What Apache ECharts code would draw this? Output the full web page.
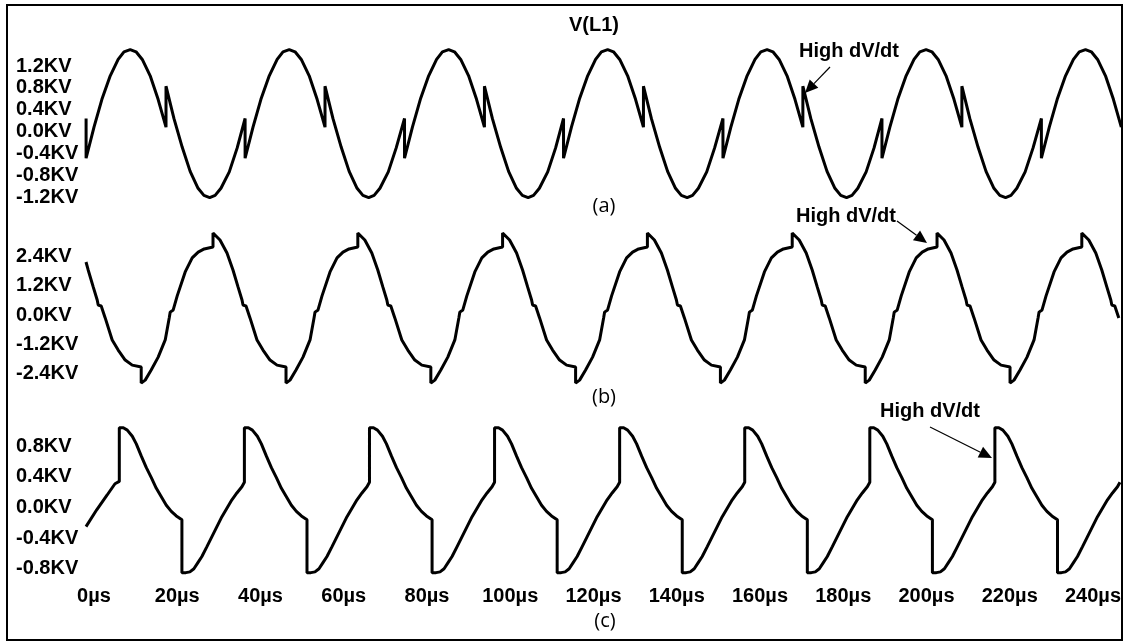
<!DOCTYPE html>
<html>
<head>
<meta charset="utf-8">
<title>V(L1)</title>
<script src="https://cdn.jsdelivr.net/npm/echarts@6/dist/echarts.min.js"></script>
<style>
  html, body { margin: 0; padding: 0; background: #fff; }
  #main { width: 1123px; height: 642px; }
</style>
</head>
<body>
<div id="main"></div>
<script>
// time axis (µs): labelled 0..240, but the traces run a little past both ends
const timeMin = -20;
const timeMax = 260;
const timeStep = 20;
const labelFirst = 0;
const labelLast = 240;

// (a) V(L1) - sine with high dV/dt notches
const timeA = [
  -1.9,
  -1.9, 0.0, 1.9, 3.9, 5.8, 7.2, 8.7, 10.1, 11.6, 13.5, 15.4, 17.3, 17.3, 19.2, 21.2, 23.1, 25.0, 26.4, 27.8, 29.1, 30.5, 32.5, 34.4, 36.3,
  36.3, 38.2, 40.1, 42.1, 44.0, 45.4, 46.9, 48.3, 49.8, 51.7, 53.6, 55.5, 55.5, 57.4, 59.4, 61.3, 63.2, 64.6, 66.0, 67.3, 68.7, 70.7, 72.6, 74.6,
  74.6, 76.5, 78.4, 80.4, 82.3, 83.7, 85.2, 86.6, 88.1, 90.0, 91.9, 93.8, 93.8, 95.7, 97.7, 99.6, 101.5, 102.9, 104.3, 105.6, 107.0, 109.0, 110.9, 112.8,
  112.8, 114.7, 116.6, 118.6, 120.5, 121.9, 123.4, 124.8, 126.3, 128.2, 130.1, 132.0, 132.0, 133.9, 135.9, 137.8, 139.7, 141.1, 142.5, 143.8, 145.2, 147.2, 149.1, 151.1,
  151.1, 153.0, 154.9, 156.9, 158.8, 160.2, 161.7, 163.1, 164.6, 166.5, 168.4, 170.3, 170.3, 172.2, 174.2, 176.1, 178.0, 179.4, 180.8, 182.1, 183.5, 185.5, 187.4, 189.3,
  189.3, 191.2, 193.1, 195.1, 197.0, 198.4, 199.9, 201.3, 202.8, 204.7, 206.6, 208.5, 208.5, 210.4, 212.4, 214.3, 216.2, 217.6, 219.0, 220.3, 221.7, 223.7, 225.6, 227.6,
  227.6, 229.5, 231.4, 233.4, 235.3, 236.7, 238.2, 239.6, 241.1, 243.0, 244.9, 246.8
];
const voltA = [
  0.24,
  -0.49, 0.08, 0.59, 1.02, 1.32, 1.46, 1.50, 1.46, 1.32, 1.02, 0.59, 0.08, 0.83, 0.24, -0.29, -0.73, -1.04, -1.17, -1.21, -1.17, -1.04, -0.74, -0.30, 0.24,
  -0.49, 0.08, 0.59, 1.02, 1.32, 1.46, 1.50, 1.46, 1.32, 1.02, 0.59, 0.08, 0.83, 0.24, -0.29, -0.73, -1.04, -1.17, -1.21, -1.17, -1.04, -0.74, -0.30, 0.24,
  -0.49, 0.08, 0.59, 1.02, 1.32, 1.46, 1.50, 1.46, 1.32, 1.02, 0.59, 0.08, 0.83, 0.24, -0.29, -0.73, -1.04, -1.17, -1.21, -1.17, -1.04, -0.74, -0.30, 0.24,
  -0.49, 0.08, 0.59, 1.02, 1.32, 1.46, 1.50, 1.46, 1.32, 1.02, 0.59, 0.08, 0.83, 0.24, -0.29, -0.73, -1.04, -1.17, -1.21, -1.17, -1.04, -0.74, -0.30, 0.24,
  -0.49, 0.08, 0.59, 1.02, 1.32, 1.46, 1.50, 1.46, 1.32, 1.02, 0.59, 0.08, 0.83, 0.24, -0.29, -0.73, -1.04, -1.17, -1.21, -1.17, -1.04, -0.74, -0.30, 0.24,
  -0.49, 0.08, 0.59, 1.02, 1.32, 1.46, 1.50, 1.46, 1.32, 1.02, 0.59, 0.08, 0.83, 0.24, -0.29, -0.73, -1.04, -1.17, -1.21, -1.17, -1.04, -0.74, -0.30, 0.24,
  -0.49, 0.08, 0.59, 1.02, 1.32, 1.46, 1.50, 1.46, 1.32, 1.02, 0.59, 0.08
];

// (b)
const timeB = [
  -1.92, -1.40, -0.19, 0.77, 1.01, 1.73, 2.69, 4.37, 5.81, 7.49, 9.18, 11.34,
  11.34, 12.30, 13.74, 15.42, 17.11, 18.07, 18.31, 19.03, 19.99, 21.91, 23.59, 25.03, 26.48, 28.59,
  28.59, 30.27, 31.95, 33.39, 34.60, 35.56, 35.80, 36.52, 37.48, 39.16, 40.60, 42.28, 43.97, 46.13,
  46.13, 47.09, 48.53, 50.21, 51.90, 52.86, 53.10, 53.82, 54.78, 56.70, 58.38, 59.82, 61.27, 63.38,
  63.38, 65.06, 66.74, 68.18, 69.39, 70.35, 70.59, 71.31, 72.27, 73.95, 75.39, 77.07, 78.76, 80.92,
  80.92, 81.88, 83.32, 85.00, 86.69, 87.65, 87.89, 88.61, 89.57, 91.49, 93.17, 94.61, 96.06, 98.16,
  98.16, 99.84, 101.52, 102.96, 104.17, 105.13, 105.37, 106.09, 107.05, 108.73, 110.17, 111.85, 113.54, 115.70,
  115.70, 116.66, 118.10, 119.78, 121.47, 122.43, 122.67, 123.39, 124.35, 126.27, 127.95, 129.39, 130.84, 132.95,
  132.95, 134.63, 136.31, 137.75, 138.96, 139.92, 140.16, 140.88, 141.84, 143.52, 144.96, 146.64, 148.33, 150.49,
  150.49, 151.45, 152.89, 154.57, 156.26, 157.22, 157.46, 158.18, 159.14, 161.06, 162.74, 164.18, 165.63, 167.74,
  167.74, 169.42, 171.10, 172.54, 173.75, 174.71, 174.95, 175.67, 176.63, 178.31, 179.75, 181.43, 183.12, 185.28,
  185.28, 186.24, 187.68, 189.36, 191.05, 192.01, 192.25, 192.97, 193.93, 195.85, 197.53, 198.97, 200.42, 202.53,
  202.53, 204.21, 205.89, 207.33, 208.54, 209.50, 209.74, 210.46, 211.42, 213.10, 214.54, 216.22, 217.91, 220.07,
  220.07, 221.03, 222.47, 224.15, 225.84, 226.80, 227.04, 227.76, 228.72, 230.64, 232.32, 233.76, 235.21, 237.31,
  237.31, 238.99, 240.67, 242.11, 243.32, 244.28, 244.52, 245.24, 246.20
];
const voltB = [
  2.19, 1.86, 1.16, 0.62, 0.41, 0.37, -0.12, -1.03, -1.45, -1.86, -2.07, -2.15,
  -2.81, -2.69, -2.27, -1.74, -1.03, -0.12, 0.12, 0.21, 0.79, 1.78, 2.36, 2.60, 2.73, 2.81,
  3.39, 3.10, 2.56, 1.86, 1.16, 0.62, 0.41, 0.37, -0.12, -1.03, -1.45, -1.86, -2.07, -2.15,
  -2.81, -2.69, -2.27, -1.74, -1.03, -0.12, 0.12, 0.21, 0.79, 1.78, 2.36, 2.60, 2.73, 2.81,
  3.39, 3.10, 2.56, 1.86, 1.16, 0.62, 0.41, 0.37, -0.12, -1.03, -1.45, -1.86, -2.07, -2.15,
  -2.81, -2.69, -2.27, -1.74, -1.03, -0.12, 0.12, 0.21, 0.79, 1.78, 2.36, 2.60, 2.73, 2.81,
  3.39, 3.10, 2.56, 1.86, 1.16, 0.62, 0.41, 0.37, -0.12, -1.03, -1.45, -1.86, -2.07, -2.15,
  -2.81, -2.69, -2.27, -1.74, -1.03, -0.12, 0.12, 0.21, 0.79, 1.78, 2.36, 2.60, 2.73, 2.81,
  3.39, 3.10, 2.56, 1.86, 1.16, 0.62, 0.41, 0.37, -0.12, -1.03, -1.45, -1.86, -2.07, -2.15,
  -2.81, -2.69, -2.27, -1.74, -1.03, -0.12, 0.12, 0.21, 0.79, 1.78, 2.36, 2.60, 2.73, 2.81,
  3.39, 3.10, 2.56, 1.86, 1.16, 0.62, 0.41, 0.37, -0.12, -1.03, -1.45, -1.86, -2.07, -2.15,
  -2.81, -2.69, -2.27, -1.74, -1.03, -0.12, 0.12, 0.21, 0.79, 1.78, 2.36, 2.60, 2.73, 2.81,
  3.39, 3.10, 2.56, 1.86, 1.16, 0.62, 0.41, 0.37, -0.12, -1.03, -1.45, -1.86, -2.07, -2.15,
  -2.81, -2.69, -2.27, -1.74, -1.03, -0.12, 0.12, 0.21, 0.79, 1.78, 2.36, 2.60, 2.73, 2.81,
  3.39, 3.10, 2.56, 1.86, 1.16, 0.62, 0.41, 0.37, -0.12
];

// (c)
const timeC = [
  -1.92, 0.65, 3.12, 5.04, 6.08,
  6.08, 7.04, 8.00, 9.20, 10.16, 11.37, 12.57, 13.77, 14.97, 16.17, 17.37, 18.57, 19.77, 21.12,
  21.12, 22.08, 23.04, 24.00, 24.96, 25.92, 27.13, 28.33, 29.53, 30.73, 31.93, 33.13, 34.33, 35.53, 36.13,
  36.13, 37.09, 38.05, 39.25, 40.21, 41.42, 42.62, 43.82, 45.02, 46.22, 47.42, 48.62, 49.82, 51.17,
  51.17, 52.13, 53.09, 54.05, 55.01, 55.97, 57.18, 58.38, 59.58, 60.78, 61.98, 63.18, 64.38, 65.58, 66.18,
  66.18, 67.14, 68.10, 69.30, 70.26, 71.47, 72.67, 73.87, 75.07, 76.27, 77.47, 78.67, 79.87, 81.22,
  81.22, 82.18, 83.14, 84.10, 85.06, 86.02, 87.23, 88.43, 89.63, 90.83, 92.03, 93.23, 94.43, 95.63, 96.23,
  96.23, 97.19, 98.15, 99.35, 100.31, 101.52, 102.72, 103.92, 105.12, 106.32, 107.52, 108.72, 109.92, 111.27,
  111.27, 112.23, 113.19, 114.15, 115.11, 116.07, 117.28, 118.48, 119.68, 120.88, 122.08, 123.28, 124.48, 125.68, 126.28,
  126.28, 127.24, 128.20, 129.40, 130.36, 131.57, 132.77, 133.97, 135.17, 136.37, 137.57, 138.77, 139.97, 141.32,
  141.32, 142.28, 143.24, 144.20, 145.16, 146.12, 147.33, 148.53, 149.73, 150.93, 152.13, 153.33, 154.53, 155.73, 156.33,
  156.33, 157.29, 158.25, 159.45, 160.41, 161.62, 162.82, 164.02, 165.22, 166.42, 167.62, 168.82, 170.02, 171.37,
  171.37, 172.33, 173.29, 174.25, 175.21, 176.17, 177.38, 178.58, 179.78, 180.98, 182.18, 183.38, 184.58, 185.78, 186.38,
  186.38, 187.34, 188.30, 189.50, 190.46, 191.67, 192.87, 194.07, 195.27, 196.47, 197.67, 198.87, 200.07, 201.42,
  201.42, 202.38, 203.34, 204.30, 205.26, 206.22, 207.43, 208.63, 209.83, 211.03, 212.23, 213.43, 214.63, 215.83, 216.43,
  216.43, 217.39, 218.35, 219.55, 220.51, 221.72, 222.92, 224.12, 225.32, 226.52, 227.72, 228.92, 230.12, 231.47,
  231.47, 232.43, 233.39, 234.35, 235.31, 236.27, 237.48, 238.68, 239.88, 241.08, 242.28, 243.48, 244.68, 245.88, 246.48
];
const voltC = [
  -0.25, -0.03, 0.16, 0.31, 0.34,
  1.04, 1.04, 1.01, 0.93, 0.83, 0.67, 0.52, 0.39, 0.25, 0.14, 0.03, -0.05, -0.11, -0.16,
  -0.85, -0.85, -0.84, -0.80, -0.72, -0.64, -0.51, -0.38, -0.25, -0.12, -0.01, 0.10, 0.19, 0.27, 0.33,
  1.04, 1.04, 1.01, 0.93, 0.83, 0.67, 0.52, 0.39, 0.25, 0.14, 0.03, -0.05, -0.11, -0.16,
  -0.85, -0.85, -0.84, -0.80, -0.72, -0.64, -0.51, -0.38, -0.25, -0.12, -0.01, 0.10, 0.19, 0.27, 0.33,
  1.04, 1.04, 1.01, 0.93, 0.83, 0.67, 0.52, 0.39, 0.25, 0.14, 0.03, -0.05, -0.11, -0.16,
  -0.85, -0.85, -0.84, -0.80, -0.72, -0.64, -0.51, -0.38, -0.25, -0.12, -0.01, 0.10, 0.19, 0.27, 0.33,
  1.04, 1.04, 1.01, 0.93, 0.83, 0.67, 0.52, 0.39, 0.25, 0.14, 0.03, -0.05, -0.11, -0.16,
  -0.85, -0.85, -0.84, -0.80, -0.72, -0.64, -0.51, -0.38, -0.25, -0.12, -0.01, 0.10, 0.19, 0.27, 0.33,
  1.04, 1.04, 1.01, 0.93, 0.83, 0.67, 0.52, 0.39, 0.25, 0.14, 0.03, -0.05, -0.11, -0.16,
  -0.85, -0.85, -0.84, -0.80, -0.72, -0.64, -0.51, -0.38, -0.25, -0.12, -0.01, 0.10, 0.19, 0.27, 0.33,
  1.04, 1.04, 1.01, 0.93, 0.83, 0.67, 0.52, 0.39, 0.25, 0.14, 0.03, -0.05, -0.11, -0.16,
  -0.85, -0.85, -0.84, -0.80, -0.72, -0.64, -0.51, -0.38, -0.25, -0.12, -0.01, 0.10, 0.19, 0.27, 0.33,
  1.04, 1.04, 1.01, 0.93, 0.83, 0.67, 0.52, 0.39, 0.25, 0.14, 0.03, -0.05, -0.11, -0.16,
  -0.85, -0.85, -0.84, -0.80, -0.72, -0.64, -0.51, -0.38, -0.25, -0.12, -0.01, 0.10, 0.19, 0.27, 0.33,
  1.04, 1.04, 1.01, 0.93, 0.83, 0.67, 0.52, 0.39, 0.25, 0.14, 0.03, -0.05, -0.11, -0.16,
  -0.85, -0.85, -0.84, -0.80, -0.72, -0.64, -0.51, -0.38, -0.25, -0.12, -0.01, 0.10, 0.19, 0.27, 0.33
];

// y ticks for each panel: [min, max, step]
const ticksA = [-1.2, 1.2, 0.4];
const ticksB = [-2.4, 2.4, 1.2];
const ticksC = [-0.8, 0.8, 0.4];

const FONT = '"Liberation Sans", Arial, sans-serif';
const PX_PER_US = 4.1625;
const ZERO_X = 94; // where 0µs sits
const gridLeft = ZERO_X + timeMin * PX_PER_US;

function pairs(t, v) {
  return t.map((x, i) => [x, v[i]]);
}

const panels = [
  { top: 66, height: 131, ticks: ticksA, data: pairs(timeA, voltA) },
  { top: 256.9, height: 116.2, ticks: ticksB, data: pairs(timeB, voltB) },
  { top: 446.2, height: 122.6, ticks: ticksC, data: pairs(timeC, voltC) }
];

function text(str, x, y, font) {
  return {
    type: 'text', z: 100,
    style: {
      text: str, x: x, y: y, font: font, fill: '#000',
      align: 'center', verticalAlign: 'middle',
      textAlign: 'center', textVerticalAlign: 'middle'
    }
  };
}

// thin arrow with a filled head
function arrow(x1, y1, x2, y2) {
  const dx = x2 - x1, dy = y2 - y1, len = Math.hypot(dx, dy);
  const ux = dx / len, uy = dy / len;
  const bx = x2 - ux * 13, by = y2 - uy * 13;
  return [
    { type: 'line', z: 100, shape: { x1: x1, y1: y1, x2: bx, y2: by }, style: { stroke: '#000', lineWidth: 1.2 } },
    { type: 'polygon', z: 100, shape: { points: [[x2, y2], [bx - uy * 6, by + ux * 6], [bx + uy * 6, by - ux * 6]] }, style: { fill: '#000' } }
  ];
}

const myChart = echarts.init(document.getElementById('main'));

const option = {
  animation: false,
  backgroundColor: '#fff',
  grid: panels.map(p => ({
    left: gridLeft, width: (timeMax - timeMin) * PX_PER_US, top: p.top, height: p.height,
    outerBoundsMode: 'none', containLabel: false
  })),
  xAxis: panels.map((p, i) => ({
    type: 'value', gridIndex: i,
    min: timeMin, max: timeMax, interval: timeStep,
    axisLine: { show: false },
    axisTick: { show: false },
    splitLine: { show: false },
    axisLabel: {
      show: i === 2,
      margin: 18,
      color: '#000',
      fontFamily: FONT,
      fontWeight: 'bold',
      fontSize: 20,
      formatter: v => (v < labelFirst || v > labelLast ? '' : v + 'µs')
    }
  })),
  yAxis: panels.map((p, i) => ({
    type: 'value', gridIndex: i,
    min: p.ticks[0], max: p.ticks[1], interval: p.ticks[2],
    axisLine: { show: false },
    axisTick: { show: false },
    splitLine: { show: false },
    axisLabel: {
      align: 'left',
      margin: gridLeft - 16,
      color: '#000',
      fontFamily: FONT,
      fontWeight: 'bold',
      fontSize: 20,
      formatter: v => (Math.abs(v) < 1e-9 ? 0 : v).toFixed(1) + 'KV'
    }
  })),
  series: panels.map((p, i) => ({
    type: 'line',
    xAxisIndex: i,
    yAxisIndex: i,
    data: p.data,
    symbol: 'none',
    showSymbol: false,
    clip: false,
    lineStyle: { color: '#000', width: 3 }
  })),
  graphic: [
    { type: 'rect', z: 100, shape: { x: 7, y: 5, width: 1115, height: 635 }, style: { fill: 'none', stroke: '#000', lineWidth: 2 } },
    text('V(L1)', 594, 25, 'bold 20px ' + FONT),
    text('(a)', 604, 206, '20px "Open Sans", sans-serif'),
    text('(b)', 604, 397, '20px "Open Sans", sans-serif'),
    text('(c)', 605, 621, '20px "Open Sans", sans-serif'),
    text('High dV/dt', 849, 51, 'bold 20px ' + FONT),
    text('High dV/dt', 846, 216, 'bold 20px ' + FONT),
    text('High dV/dt', 930, 411, 'bold 20px ' + FONT)
  ]
    .concat(arrow(830, 67, 805, 93))
    .concat(arrow(897, 221, 927, 243))
    .concat(arrow(930, 427, 992, 458))
};

myChart.setOption(option);
</script>
</body>
</html>
